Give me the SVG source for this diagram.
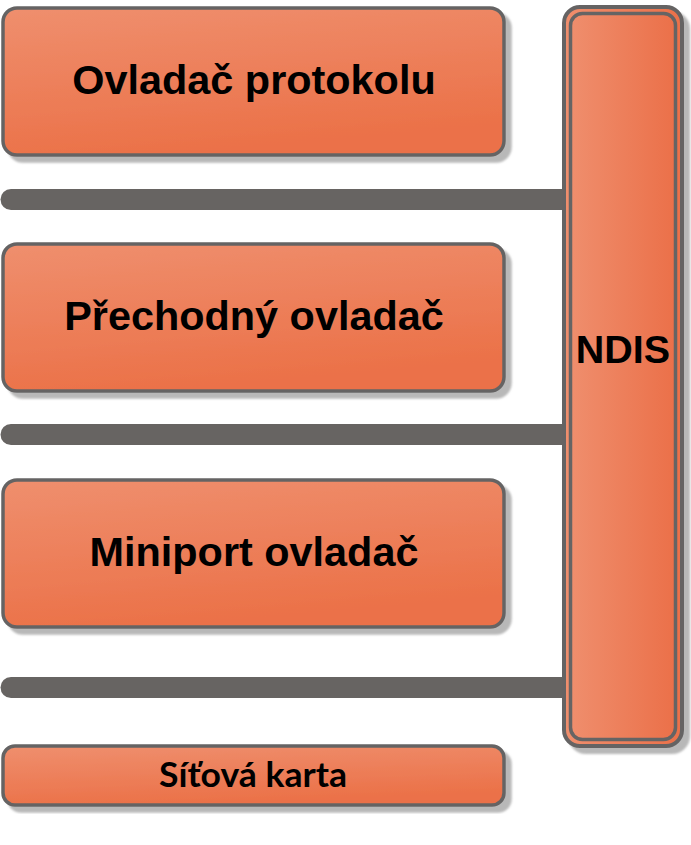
<svg xmlns="http://www.w3.org/2000/svg" width="691" height="845" viewBox="0 0 691 845">
<defs>
<linearGradient id="gBox" x1="0" y1="0" x2="0.3" y2="1">
<stop offset="0" stop-color="#ef8f6e"/>
<stop offset="1" stop-color="#eb7148"/>
</linearGradient>
<linearGradient id="gNdis" x1="0" y1="0" x2="1" y2="0">
<stop offset="0" stop-color="#ef8e6d"/>
<stop offset="1" stop-color="#eb7049"/>
</linearGradient>
<filter id="sh" x="-5%" y="-5%" width="115%" height="120%">
<feDropShadow dx="6" dy="6" stdDeviation="1.2" flood-color="#9a9a9a" flood-opacity="0.7"/>
</filter>
<style>
.box{fill:url(#gBox);stroke:#656464;stroke-width:3.5;filter:url(#sh)}
.lbl{font-family:"Liberation Sans",Arial,sans-serif;font-weight:bold;font-size:41.4px;fill:#000;text-anchor:middle}
.bar{fill:#676462}
</style>
</defs>
<g id="connectors">
<path class="bar" d="M11,189 H566 V210 H11 A10.5,10.5 0 0 1 11,189 Z"/>
<path class="bar" d="M11,424 H566 V445 H11 A10.5,10.5 0 0 1 11,424 Z"/>
<path class="bar" d="M11,677 H566 V698 H11 A10.5,10.5 0 0 1 11,677 Z"/>
</g>
<g id="ndis">
<rect x="564" y="7" width="118" height="739" rx="16" fill="url(#gNdis)" stroke="#656464" stroke-width="4" filter="url(#sh)"/>
<rect x="570.5" y="13.5" width="105" height="726" rx="12" fill="url(#gNdis)" stroke="#656464" stroke-width="3.5"/>
<text class="lbl" x="623" y="363" style="font-size:39.5px">NDIS</text>
</g>
<g id="protokol">
<rect class="box" x="3" y="8" width="501" height="147" rx="14"/>
<text class="lbl" x="254" y="94">Ovladač protokolu</text>
</g>
<g id="prechodny">
<rect class="box" x="3" y="244" width="501" height="147" rx="14"/>
<text class="lbl" x="254" y="330">Přechodný ovladač</text>
</g>
<g id="miniport">
<rect class="box" x="3" y="480" width="501" height="147" rx="14"/>
<text class="lbl" x="254" y="566">Miniport ovladač</text>
</g>
<g id="sitova">
<rect class="box" x="3" y="746" width="501" height="59" rx="12"/>
<text x="253" y="787" text-anchor="middle" style="font-family:Lato,'Open Sans',sans-serif;font-weight:bold;font-size:35px;fill:#000" textLength="188" lengthAdjust="spacingAndGlyphs">Síťová karta</text>
</g>
</svg>
